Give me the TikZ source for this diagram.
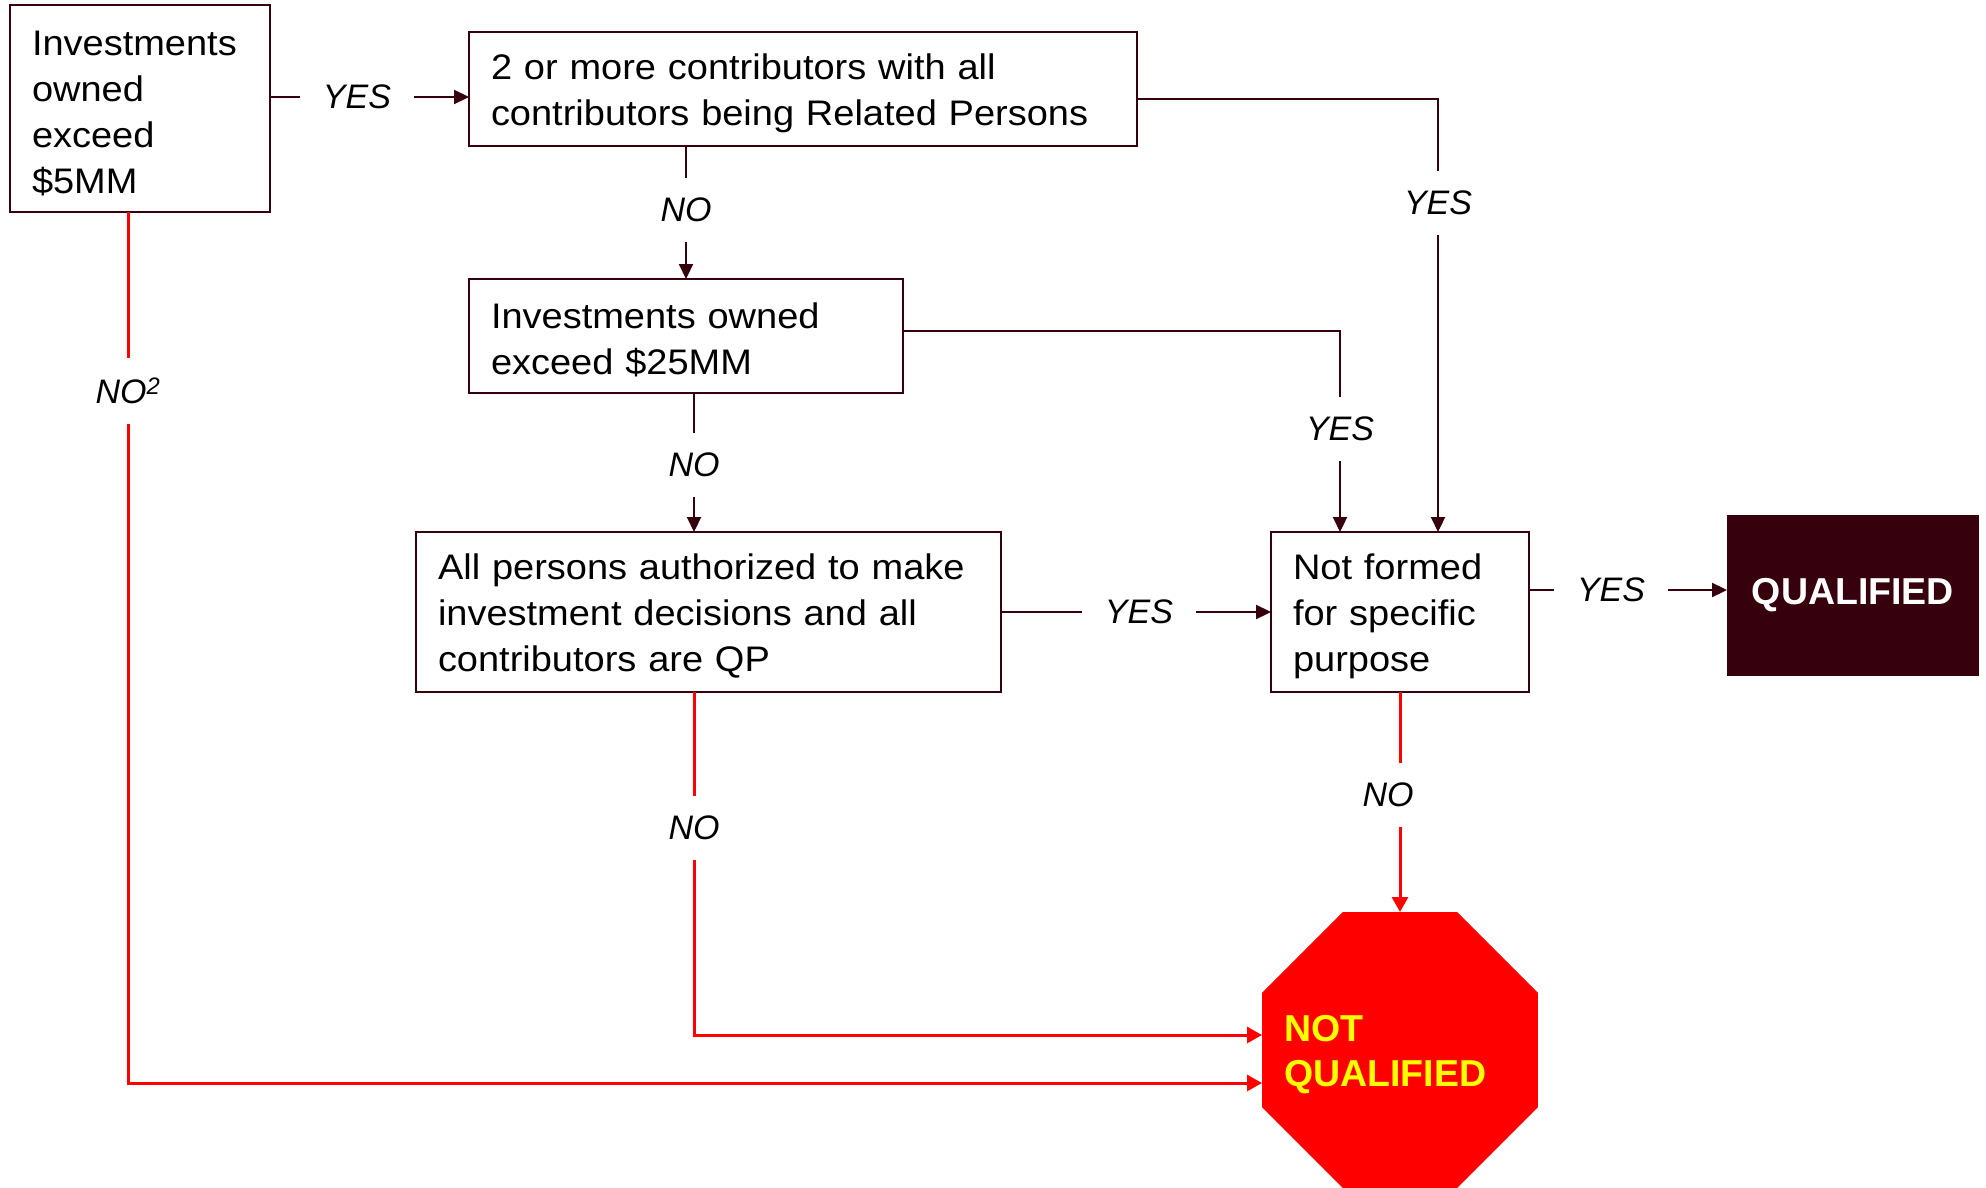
\documentclass[tikz,border=0pt]{standalone}
\usepackage{fontspec}
\setmainfont{Liberation Sans}
\newfontfamily\boxfont{Liberation Sans}[FakeStretch=1.07]
\usetikzlibrary{arrows.meta,shapes.geometric}
\definecolor{darkwine}{HTML}{36000C}
\definecolor{stopred}{HTML}{FF0000}
\definecolor{stopyellow}{HTML}{FFFF00}

\begin{document}
\begin{tikzpicture}[x=1pt,y=-1pt,
  qbox/.style={draw=darkwine, line width=2pt, fill=white, align=left,
    inner xsep=22pt, inner ysep=0pt, outer sep=0pt, anchor=north west,
    font=\boxfont\fontsize{35.5}{46}\selectfont,
    execute at begin node={\rule{0pt}{34pt}}},
  lbl/.style={font=\itshape\fontsize{34}{40}\selectfont,
    inner xsep=23pt, inner ysep=20pt},
  wine/.style={draw=darkwine, line width=2.2pt},
  winearrow/.style={wine, -{Triangle[length=15pt,width=14pt]}},
  redline/.style={draw=stopred, line width=3pt},
  redarrow/.style={redline, -{Triangle[length=15pt,width=16pt]}},
  bigbold/.style={font=\bfseries\fontsize{37.5}{45}\selectfont}]

\useasboundingbox[fill=white] (0,0) rectangle (1986,1188);

% decision boxes
\node[qbox, text width=216pt, minimum height=207pt] (b1) at (10,5)
  {Investments\\owned\\exceed\\\$5MM};
\node[qbox, text width=624pt, minimum height=114pt] (b2) at (469,32)
  {2 or more contributors with all\\contributors being Related Persons};
\node[qbox, text width=390pt, minimum height=114pt] (b3) at (469,279)
  {Investments owned\\exceed \$25MM};
\node[qbox, text width=541pt, minimum height=160pt] (b4) at (416,532)
  {All persons authorized to make\\investment decisions and all\\contributors are QP};
\node[qbox, text width=214pt, minimum height=160pt] (b5) at (1271,532)
  {Not formed\\for specific\\purpose};

% outcomes
\node[anchor=north west, fill=darkwine, minimum width=252pt, minimum height=161pt,
  inner sep=0pt, outer sep=0pt, text=white, bigbold] (Q) at (1727,515)
  {\raisebox{-4pt}{QUALIFIED}};
\node[regular polygon, regular polygon sides=8, minimum size=298.7pt,
  inner sep=0pt, outer sep=0pt, fill=stopred] (oct) at (1400,1050) {};
\node[anchor=west, align=left, inner sep=0pt, text=stopyellow, bigbold]
  (octtxt) at (1284,1055) {NOT\\QUALIFIED};

% branch labels
\node[lbl] (yA) at (357,97) {YES};
\node[lbl] (nA) at (686,210) {NO};
\node[lbl] (yB) at (1438,203) {YES};
\node[lbl] (yC) at (1340,429) {YES};
\node[lbl] (nB) at (694,465) {NO};
\node[lbl] (yD) at (1139,612) {YES};
\node[lbl] (yE) at (1611,590) {YES};
\node[lbl] (nC) at (694,828) {NO};
\node[lbl] (nD) at (1388,795) {NO};
\node[lbl] (n0) at (128,391) {NO\textsuperscript{2}};

% YES paths
\draw[wine] (b1.east |- yA) -- (yA.west);
\draw[winearrow] (yA.east) -- (b2.west |- yA);
\draw[wine] ([yshift=-10pt]b2.east) -| (yB.north);
\draw[winearrow] (yB.south) -- (yB.south |- b5.north);
\draw[wine] ([yshift=5pt]b3.east) -| (yC.north);
\draw[winearrow] (yC.south) -- (yC.south |- b5.north);
\draw[wine] (b4.east) -- (yD.west);
\draw[winearrow] (yD.east) -- (b5.west);
\draw[wine] (b5.east |- yE) -- (yE.west);
\draw[winearrow] (yE.east) -- (Q.west |- yE);

% NO paths
\draw[wine] (nA |- b2.south) -- (nA.north);
\draw[winearrow] (nA.south) -- (nA |- b3.north);
\draw[wine] (nB |- b3.south) -- (nB.north);
\draw[winearrow] (nB.south) -- (nB |- b4.north);
\draw[redline] (b5.south) -- (b5.south |- nD.north);
\draw[redarrow] (b5.south |- nD.south) -- (oct.90);
\draw[redline] (nC |- b4.south) -- (nC.north);
\draw[redarrow] (nC.south) |- ([yshift=15pt]oct.180);
\draw[redline] (n0 |- b1.south) -- (n0.north);
\draw[redarrow] (n0.south) |- ([yshift=-33pt]oct.180);
\end{tikzpicture}
\end{document}
